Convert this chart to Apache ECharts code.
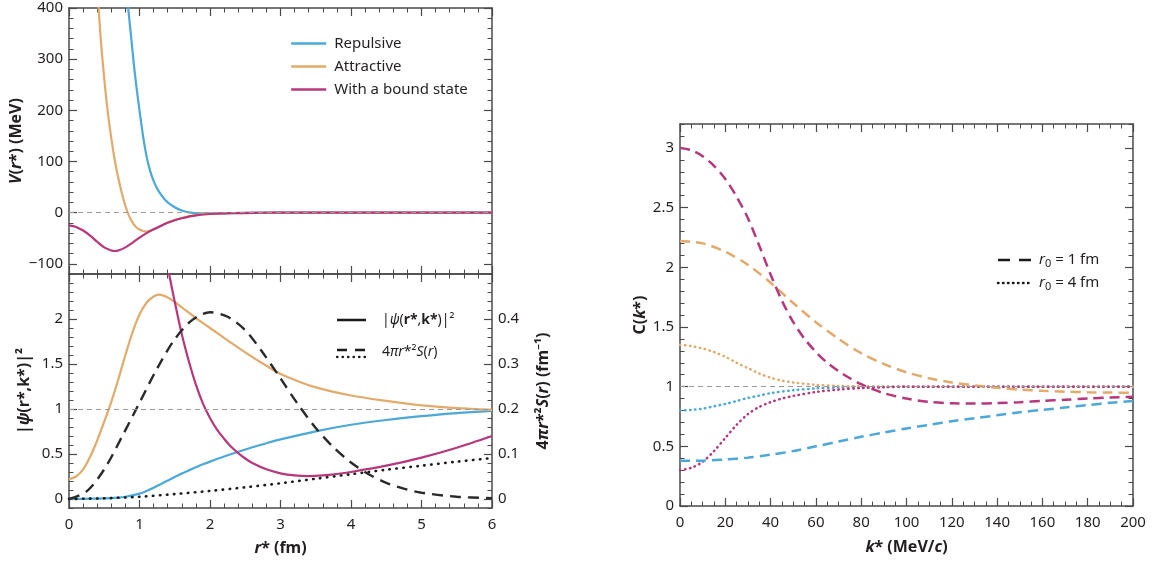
<!DOCTYPE html>
<html><head><meta charset="utf-8">
<script src="https://cdn.jsdelivr.net/npm/echarts@6/dist/echarts.min.js"></script>
<style>html,body{margin:0;padding:0;background:#fff}#c{width:1156px;height:565px}</style>
</head><body><div id="c"></div><script>
// ---------- DATA ----------
// Top-left panel: potentials V(r*) [r* (fm), V (MeV)]
const vRepulsive = [[0.80,470],[0.84,400],[0.88,345],[0.92,290],[0.96,242],[1.00,200],[1.05,150],[1.10,110],[1.15,82],[1.20,62],[1.25,47],[1.30,36],[1.35,27],[1.40,20],[1.50,10.5],[1.60,4],[1.70,0.5],[1.80,-1.2],[2.00,-1.5],[2.30,-0.8],[2.70,-0.2],[3.20,0],[4,0],[5,0],[6,0]];
const vAttractive = [[0.38,480],[0.42,400],[0.45,340],[0.50,262],[0.55,197],[0.60,145],[0.65,102],[0.70,67],[0.75,38],[0.80,13],[0.85,-6],[0.90,-19],[0.95,-28],[1.00,-33],[1.05,-36],[1.10,-37],[1.15,-35.5],[1.20,-33],[1.30,-26],[1.40,-19.5],[1.50,-14.5],[1.60,-10.5],[1.80,-5],[2.00,-2.5],[2.30,-1],[2.70,-0.3],[3.20,0],[4,0],[5,0],[6,0]];
const vBound = [[0,-25],[0.1,-28],[0.2,-35],[0.3,-45],[0.4,-57],[0.5,-68],[0.6,-74],[0.65,-75],[0.7,-74],[0.8,-68],[0.9,-59],[1.0,-49],[1.1,-40],[1.2,-32.5],[1.3,-26],[1.4,-20],[1.5,-15],[1.6,-11],[1.8,-5.5],[2.0,-2.7],[2.3,-1],[2.7,-0.3],[3.2,0],[4,0],[5,0],[6,0]];
const vTicks = [-100,0,100,200,300,400];

// Bottom-left panel: |psi|^2 and source [r*, value]
const psiRepulsive = [[0,0],[0.2,0.002],[0.4,0.005],[0.6,0.01],[0.7,0.016],[0.8,0.025],[0.9,0.04],[1.0,0.06],[1.1,0.09],[1.2,0.125],[1.3,0.165],[1.4,0.205],[1.5,0.245],[1.6,0.283],[1.7,0.318],[1.8,0.352],[1.9,0.385],[2.0,0.415],[2.2,0.472],[2.4,0.525],[2.6,0.575],[2.8,0.62],[3.0,0.662],[3.5,0.752],[4.0,0.825],[4.5,0.878],[5.0,0.92],[5.5,0.955],[6.0,0.98]];
const psiAttractive = [[0,0.22],[0.1,0.25],[0.2,0.33],[0.3,0.47],[0.4,0.65],[0.5,0.86],[0.6,1.08],[0.7,1.33],[0.8,1.6],[0.9,1.85],[1.0,2.05],[1.1,2.18],[1.2,2.25],[1.28,2.27],[1.4,2.24],[1.5,2.19],[1.6,2.13],[1.8,2.01],[2.0,1.9],[2.2,1.79],[2.5,1.63],[2.8,1.48],[3.0,1.39],[3.5,1.24],[4.0,1.15],[4.5,1.09],[5.0,1.04],[5.5,1.01],[6.0,0.99]];
const psiBound = [[1.38,2.66],[1.42,2.5],[1.5,2.19],[1.6,1.83],[1.7,1.53],[1.8,1.27],[1.9,1.06],[2.0,0.9],[2.1,0.77],[2.2,0.67],[2.3,0.58],[2.4,0.51],[2.5,0.45],[2.6,0.4],[2.8,0.33],[3.0,0.285],[3.2,0.262],[3.4,0.255],[3.6,0.262],[3.8,0.278],[4.0,0.3],[4.5,0.37],[5.0,0.46],[5.5,0.57],[6.0,0.7]];
const sourceR1 = [[0,0],[0.25,0.017],[0.5,0.066],[0.75,0.138],[1.0,0.214],[1.25,0.29],[1.5,0.355],[1.75,0.398],[2.0,0.415],[2.25,0.405],[2.5,0.375],[2.75,0.325],[3.0,0.268],[3.25,0.21],[3.5,0.158],[3.75,0.115],[4.0,0.081],[4.25,0.055],[4.5,0.036],[4.75,0.023],[5.0,0.014],[5.5,0.005],[6.0,0.002]];
const sourceR4 = [[0,0],[0.5,0.0015],[1.0,0.005],[1.5,0.011],[2.0,0.018],[2.5,0.026],[3.0,0.035],[3.5,0.045],[4.0,0.055],[4.5,0.065],[5.0,0.074],[5.5,0.083],[6.0,0.091]];
const psiTicks = [0,0.5,1,1.5,2];
const srcTicks = [0,0.1,0.2,0.3,0.4];

// Right panel: correlation functions [k* (MeV/c), C]
const cRepulsiveR1 = [[0,0.38],[10,0.38],[20,0.39],[30,0.405],[40,0.43],[50,0.46],[60,0.5],[70,0.54],[80,0.58],[90,0.615],[100,0.65],[110,0.68],[120,0.71],[130,0.735],[140,0.76],[150,0.785],[160,0.805],[170,0.825],[180,0.845],[190,0.865],[200,0.88]];
const cAttractiveR1 = [[0,2.22],[10,2.2],[20,2.13],[30,2.02],[40,1.87],[50,1.7],[60,1.54],[70,1.4],[80,1.28],[90,1.19],[100,1.12],[110,1.07],[120,1.035],[130,1.01],[140,0.99],[150,0.975],[160,0.965],[170,0.958],[180,0.953],[190,0.95],[200,0.948]];
const cBoundR1 = [[0,3.0],[5,2.98],[10,2.93],[15,2.85],[20,2.74],[25,2.59],[30,2.41],[35,2.18],[40,1.94],[45,1.72],[50,1.54],[55,1.4],[60,1.29],[65,1.2],[70,1.13],[75,1.07],[80,1.02],[85,0.98],[90,0.945],[100,0.9],[110,0.872],[120,0.86],[130,0.858],[140,0.862],[150,0.87],[160,0.88],[170,0.89],[180,0.9],[190,0.908],[200,0.915]];
const cRepulsiveR4 = [[0,0.8],[5,0.805],[10,0.815],[15,0.835],[20,0.855],[25,0.88],[30,0.905],[35,0.925],[40,0.945],[50,0.97],[60,0.985],[70,0.993],[80,0.997],[90,1.0],[100,1.0],[150,1.0],[200,1.0]];
const cAttractiveR4 = [[0,1.35],[5,1.34],[10,1.32],[15,1.29],[20,1.25],[25,1.2],[30,1.155],[35,1.11],[40,1.075],[45,1.05],[50,1.035],[60,1.015],[70,1.006],[80,1.002],[90,1.0],[100,1.0],[150,1.0],[200,1.0]];
const cBoundR4 = [[0,0.3],[5,0.32],[10,0.37],[15,0.46],[20,0.57],[25,0.68],[30,0.77],[35,0.83],[40,0.87],[45,0.9],[50,0.922],[60,0.955],[70,0.975],[80,0.988],[90,0.995],[100,1.0],[150,1.0],[200,1.0]];
const cTicks = [0,0.5,1,1.5,2,2.5,3];

// ---------- STYLE ----------
const FF = '"Noto Sans", "DejaVu Sans", sans-serif';
const AX = '#4a4a4a';
const TXT = '#231f20';
const BLUE = '#4ba8d8', ORANGE = '#e2aa6b', MAGENTA = '#b7377a';
const LW = 2.2;
const BLACK_DASH = [11,7], BLACK_DOT = [0.5,6.5], C_DASH = [10,6], C_DOT = [0.5,4.5];

const fmtMinus = v => (v < 0 ? '\u2212' + Math.abs(v) : String(v));
const lineStyleAx = {color: AX, width: 1.5};
const nameStyle = {
  fontSize: 16, fontWeight: 'bold', fontFamily: FF, color: TXT,
  rich: {
    i: {fontSize: 16, fontWeight: 'bold', fontStyle: 'italic', fontFamily: FF, color: TXT}
  }
};

function xAx(gridIndex, position, min, max, interval, split, showLabels, extra) {
  return Object.assign({
    type: 'value', gridIndex, position, min, max, interval,
    axisLine: {show: true, onZero: false, lineStyle: lineStyleAx},
    axisTick: {show: true, inside: true, length: 8, lineStyle: {color: AX, width: 1.2}},
    minorTick: {show: true, splitNumber: split, length: 4.5, lineStyle: {color: AX, width: 1}},
    axisLabel: {show: showLabels, margin: 9, fontSize: 15, color: TXT, fontFamily: FF},
    splitLine: {show: false}, minorSplitLine: {show: false}
  }, extra || {});
}
function yMajor(gridIndex, position, min, max, tickVals, labelVals, fmt, extra) {
  return Object.assign({
    type: 'value', gridIndex, position, min, max,
    axisLine: {show: true, onZero: false, lineStyle: lineStyleAx},
    axisTick: {show: true, inside: true, length: 8, customValues: tickVals, lineStyle: {color: AX, width: 1.2}},
    axisLabel: {show: !!labelVals, customValues: labelVals || tickVals, margin: 6, fontSize: 15, color: TXT, fontFamily: FF, formatter: fmt || (v => String(v))},
    splitLine: {show: false}
  }, extra || {});
}
function yMinor(gridIndex, position, min, max, interval) {
  return {
    type: 'value', gridIndex, position, min, max, interval,
    axisLine: {show: false, onZero: false},
    axisTick: {show: true, inside: true, length: 4.5, lineStyle: {color: AX, width: 1}},
    axisLabel: {show: false}, splitLine: {show: false}
  };
}

const xAxes = [
  xAx(0, 'bottom', 0, 6, 1, 5, false),                       // 0
  xAx(0, 'top', 0, 6, 1, 5, false),                          // 1
  xAx(1, 'bottom', 0, 6, 1, 5, true, {                       // 2
    name: '{i|r}* (fm)', nameLocation: 'middle', nameGap: 32, nameTextStyle: nameStyle}),
  xAx(1, 'top', 0, 6, 1, 5, false),                          // 3
  xAx(2, 'bottom', 0, 200, 20, 4, true, {                    // 4
    name: '{i|k}* (MeV/{i|c})', nameLocation: 'middle', nameGap: 33, nameTextStyle: nameStyle}),
  xAx(2, 'top', 0, 200, 20, 4, false)                        // 5
];
const yAxes = [
  yMajor(0, 'left', -120, 400, vTicks, vTicks, fmtMinus, {   // 0
    name: '{i|V}({i|r}*) (MeV)', nameLocation: 'middle', nameGap: 41, nameRotate: 90, nameTextStyle: nameStyle}),
  yMinor(0, 'left', -120, 400, 20),                          // 1
  yMajor(0, 'right', -120, 400, vTicks, null),               // 2
  yMinor(0, 'right', -120, 400, 20),                         // 3
  yMajor(1, 'left', -0.1, 2.5, psiTicks, psiTicks, null, {   // 4
    name: '|{i|\u03c8}(r*,k*)|\u00b2', nameLocation: 'middle', nameGap: 37, nameRotate: 90, nameTextStyle: nameStyle}),
  yMinor(1, 'left', -0.1, 2.5, 0.1),                         // 5
  yMajor(1, 'right', -0.02, 0.5, srcTicks, srcTicks, null, { // 6
    name: '4{i|\u03c0r}*\u00b2{i|S}({i|r}) (fm\u207b\u00b9)', nameLocation: 'middle', nameGap: 43, nameRotate: 90, nameTextStyle: nameStyle}),
  yMinor(1, 'right', -0.1, 2.5, 0.1),                        // 7
  yMajor(2, 'left', 0, 3.2, cTicks, cTicks, null, {          // 8
    name: 'C({i|k}*)', nameLocation: 'middle', nameGap: 31, nameRotate: 90, nameTextStyle: nameStyle}),
  yMinor(2, 'left', 0, 3.2, 0.1),                            // 9
  yMajor(2, 'right', 0, 3.2, cTicks, null),                  // 10
  yMinor(2, 'right', 0, 3.2, 0.1)                            // 11
];

function curve(name, data, color, xi, yi, dash, width, round) {
  return {
    type: 'line', name, data, xAxisIndex: xi, yAxisIndex: yi,
    symbol: 'none', smooth: 0.3, clip: true, silent: true, animation: false,
    lineStyle: {color, width: width || LW, type: dash || 'solid', cap: round ? 'round' : 'butt'},
    itemStyle: {color}, emphasis: {disabled: true}
  };
}
function refLine(val) {
  return {silent: true, symbol: ['none', 'none'], label: {show: false}, animation: false,
    lineStyle: {color: '#9a9a9a', type: [5, 4], width: 1}, data: [{yAxis: val}]};
}

const s0 = curve('Repulsive', vRepulsive, BLUE, 0, 0);
s0.markLine = refLine(0);
const s3 = curve('Repulsive |psi|2', psiRepulsive, BLUE, 2, 4);
s3.markLine = refLine(1);
const s8 = curve('Repulsive C r0=4', cRepulsiveR4, BLUE, 4, 8, C_DOT, 2.5, true);
s8.markLine = refLine(1);

const series = [
  s0,
  curve('Attractive', vAttractive, ORANGE, 0, 0),
  curve('With a bound state', vBound, MAGENTA, 0, 0),
  s3,
  curve('Attractive |psi|2', psiAttractive, ORANGE, 2, 4),
  curve('Bound |psi|2', psiBound, MAGENTA, 2, 4),
  curve('Source r0=4', sourceR4, '#1a1a1a', 2, 6, BLACK_DOT, 2.6, true),
  curve('Source r0=1', sourceR1, '#2a2a2a', 2, 6, BLACK_DASH, 2.4),
  s8,
  curve('Attractive C r0=4', cAttractiveR4, ORANGE, 4, 8, C_DOT, 2.5, true),
  curve('Bound C r0=4', cBoundR4, MAGENTA, 4, 8, C_DOT, 2.5, true),
  curve('Repulsive C r0=1', cRepulsiveR1, BLUE, 4, 8, C_DASH, 2.5),
  curve('Attractive C r0=1', cAttractiveR1, ORANGE, 4, 8, C_DASH, 2.5),
  curve('Bound C r0=1', cBoundR1, MAGENTA, 4, 8, C_DASH, 2.5)
];

const legTxt = {fontSize: 14, fontFamily: FF, fill: TXT};
const legRich = {
  i: {fontSize: 14, fontStyle: 'italic', fontFamily: FF, fill: TXT},
  b: {fontSize: 14, fontWeight: 'bold', fontFamily: FF, fill: TXT},
  ri: {fontSize: 15, fontStyle: 'italic', fontFamily: FF, fill: TXT},
  sub: {fontSize: 11, fontFamily: FF, fill: TXT, padding: [8, 0, 0, 0]},
  n: {fontSize: 15, fontFamily: FF, fill: TXT}
};
const graphic = [
  // bottom-left legend
  {type: 'line', shape: {x1: 337, y1: 320, x2: 366, y2: 320}, style: {stroke: '#1a1a1a', lineWidth: 2.5}},
  {type: 'text', x: 382, y: 320, style: Object.assign({text: '|{i|\u03c8}({b|r*},{b|k*})|\u00b2', rich: legRich, verticalAlign: 'middle'}, legTxt)},
  {type: 'line', shape: {x1: 337, y1: 350, x2: 368, y2: 350}, style: {stroke: '#1a1a1a', lineWidth: 2.3, lineDash: [10, 8]}},
  {type: 'line', shape: {x1: 337, y1: 357, x2: 368, y2: 357}, style: {stroke: '#1a1a1a', lineWidth: 2.3, lineDash: [0.5, 5], lineCap: 'round'}},
  {type: 'text', x: 382, y: 352, style: Object.assign({text: '4{i|\u03c0r}*\u00b2{i|S}({i|r})', rich: legRich, verticalAlign: 'middle'}, legTxt)},
  // right legend
  {type: 'line', shape: {x1: 998, y1: 260, x2: 1032, y2: 260}, style: {stroke: '#1a1a1a', lineWidth: 2.5, lineDash: [12, 9]}},
  {type: 'text', x: 1039, y: 260, style: {text: '{ri|r}{sub|0}{n| = 1 fm}', rich: legRich, verticalAlign: 'middle', fontSize: 15, fontFamily: FF, fill: TXT}},
  {type: 'line', shape: {x1: 998, y1: 283, x2: 1032, y2: 283}, style: {stroke: '#1a1a1a', lineWidth: 2.5, lineDash: [0.5, 4.5], lineCap: 'round'}},
  {type: 'text', x: 1039, y: 283, style: {text: '{ri|r}{sub|0}{n| = 4 fm}', rich: legRich, verticalAlign: 'middle', fontSize: 15, fontFamily: FF, fill: TXT}}
];

const chart = echarts.init(document.getElementById('c'), null, {renderer: 'canvas'});
chart.setOption({
  animation: false,
  backgroundColor: '#fff',
  textStyle: {fontFamily: FF},
  grid: [
    {left: 69, top: 8, width: 423, height: 266, outerBoundsMode: 'none'},
    {left: 69, top: 274, width: 423, height: 234, outerBoundsMode: 'none'},
    {left: 680, top: 124, width: 453, height: 382, outerBoundsMode: 'none'}
  ],
  legend: {
    data: ['Repulsive', 'Attractive', 'With a bound state'],
    orient: 'vertical', left: 290, top: 36, padding: 0,
    itemWidth: 35, itemHeight: 15, itemGap: 8,
    selectedMode: false,
    itemStyle: {opacity: 0},
    lineStyle: {width: 2.4},
    textStyle: {fontSize: 15, color: TXT, fontFamily: FF, padding: [0, 0, 0, 3]}
  },
  xAxis: xAxes,
  yAxis: yAxes,
  series,
  graphic
});
</script></body></html>
